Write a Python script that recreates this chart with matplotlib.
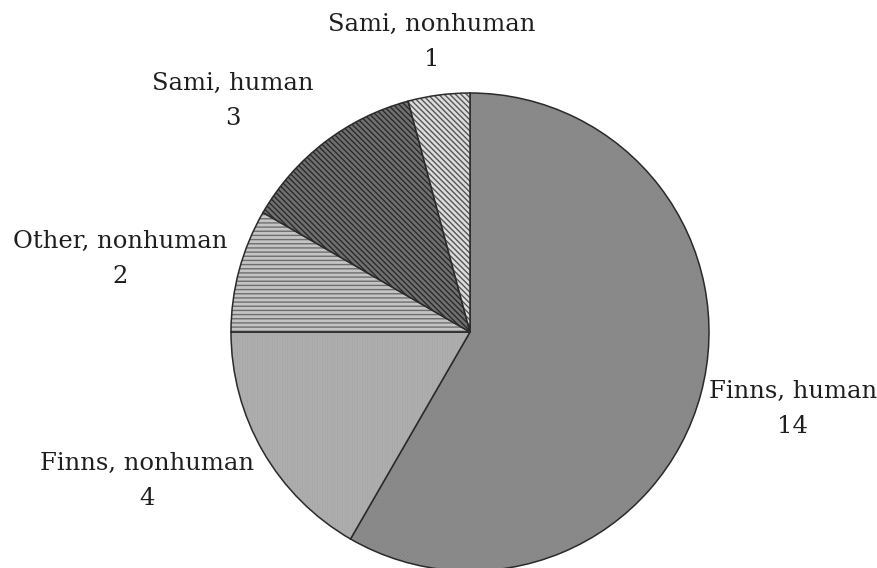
import matplotlib
matplotlib.use("Agg")
import matplotlib.pyplot as plt
from matplotlib.colors import to_rgba

categories = ["Finns, human", "Finns, nonhuman", "Other, nonhuman", "Sami, human", "Sami, nonhuman"]
values = [14, 4, 2, 3, 1]

colors = ["#8f8f8f", "#bebebe", "#c4c4c4", "#707070", "#dcdcdc"]
hatches = ["//////////", "||||||||||", "----", "\\\\\\\\\\\\", "\\\\\\\\\\\\"]
hatch_colors = ["#858585", "#a8a8a8", "#6e6e6e", "#2a2a2a", "#555555"]

# label anchor (center x, first-line baseline y from top, in pixels)
label_x = [793, 147, 120, 233, 432]
label_base = [398, 470, 248, 90, 31]

plt.rcParams['font.family'] = ['DejaVu Serif']
plt.rcParams['hatch.linewidth'] = 1.0

W, H = 878, 568
fig = plt.figure(figsize=(W / 100, H / 100), dpi=100)
ax = fig.add_axes([0, 0, 1, 1])

wedges, _ = ax.pie(values, startangle=90, counterclock=False, center=(470, H - 332), radius=239,
                   colors=colors, wedgeprops=dict(edgecolor="#2a2a2a", linewidth=1.1),
                   frame=True)
for w, h, hc in zip(wedges, hatches, hatch_colors):
    if h:
        w.set_hatch(h)
        w._hatch_color = to_rgba(hc)
ax.set_xlim(0, W)
ax.set_ylim(0, H)
ax.set_aspect('equal')
ax.axis('off')

for cat, v, x, yb in zip(categories, values, label_x, label_base):
    ax.text(x, H - yb, cat, ha="center", va="baseline", fontsize=17.5, color="#1e1e1e")
    ax.text(x, H - yb - 35, str(v), ha="center", va="baseline", fontsize=17.5, color="#1e1e1e")

fig.savefig("out.png", dpi=100)
